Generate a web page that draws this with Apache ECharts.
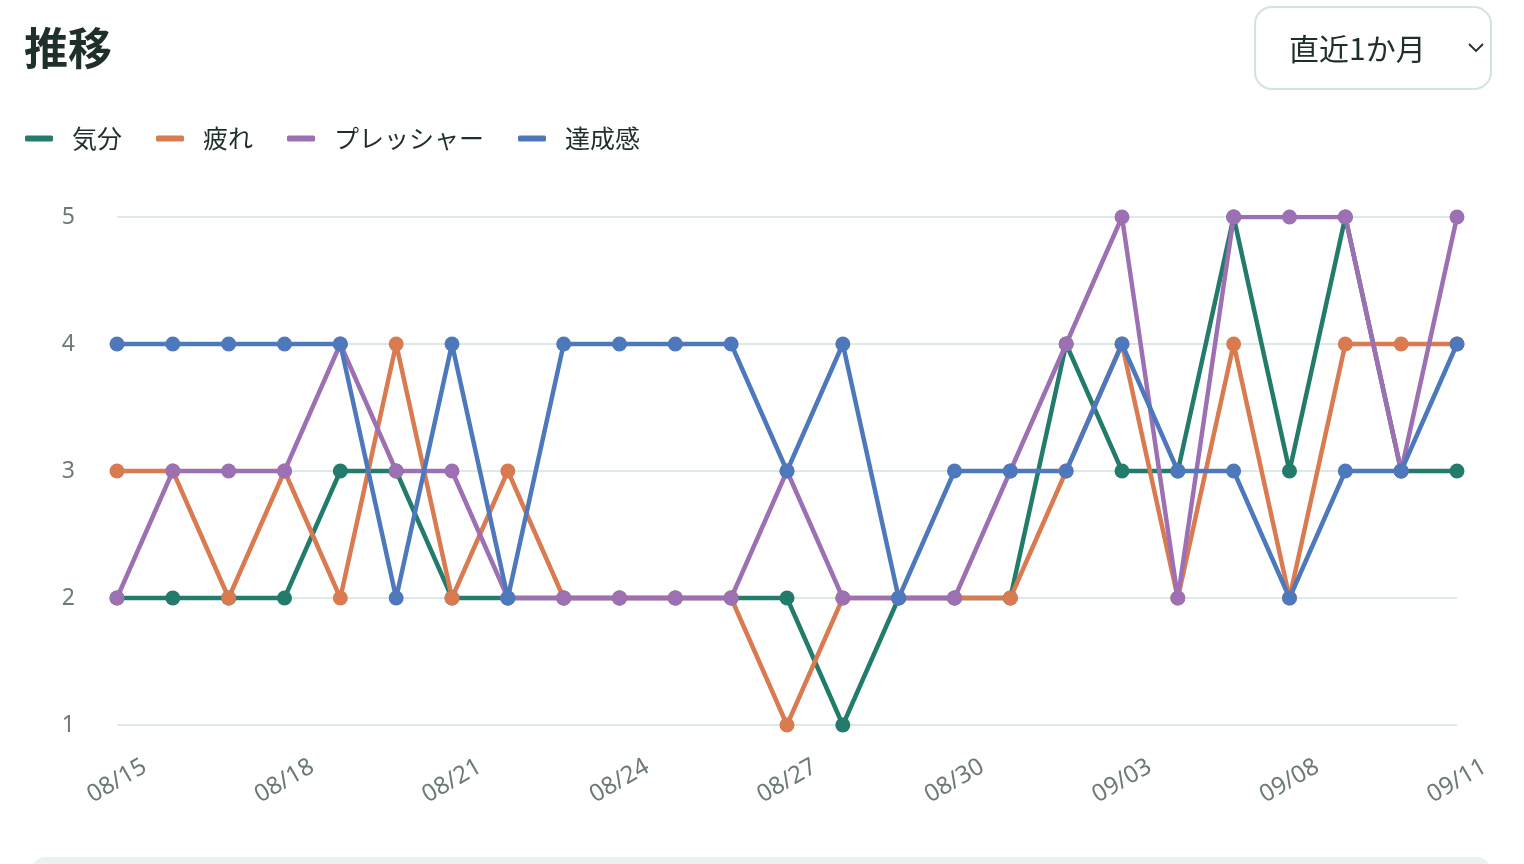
<!DOCTYPE html>
<html lang="ja">
<head>
<meta charset="utf-8">
<title>推移</title>
<script src="https://cdn.jsdelivr.net/npm/echarts@6/dist/echarts.min.js"></script>
<style>
    html, body { margin: 0; padding: 0; background: #fff; }
    body { width: 1524px; height: 864px; position: relative; overflow: hidden;
        font-family: "Noto Sans CJK JP", "Noto Sans", sans-serif; }
    #main { position: absolute; left: 0; top: 0; width: 1524px; height: 864px; }
    #range {
        position: absolute; left: 1254px; top: 6px; width: 234px; height: 80px;
        border: 2px solid #d3e3df; border-radius: 18px; box-sizing: content-box;
        color: #1f2f2b; font-size: 30px; line-height: 78px;
    }
    #range span { position: absolute; left: 33px; top: 0; }
    #range svg { position: absolute; left: 212px; top: 35px; }
    #panel {
        position: absolute; left: 30px; top: 857px; width: 1462px; height: 40px;
        background: #e8f2ef; border-radius: 16px;
    }
</style>
</head>
<body>
<div id="main"></div>
<div id="range"><span>直近1か月</span>
    <svg width="16" height="10" viewBox="0 0 16 10"><path d="M1 1 L8 8 L15 1" fill="none" stroke="#1f2f2b" stroke-width="1.8"/></svg>
</div>
<div id="panel"></div>
<script>
const chartDom = document.getElementById('main')
const myChart = echarts.init(chartDom)

// 日付
const dates = ['08/15', '08/16', '08/17', '08/18', '08/19', '08/20', '08/21', '08/22', '08/23',
    '08/24', '08/25', '08/26', '08/27', '08/28', '08/29', '08/30', '08/31', '09/01', '09/03',
    '09/04', '09/06', '09/08', '09/09', '09/10', '09/11']

const mood = [2, 2, 2, 2, 3, 3, 2, 2, 2, 2, 2, 2, 2, 1, 2, 2, 2, 4, 3, 3, 5, 3, 5, 3, 3]
const fatigue = [3, 3, 2, 3, 2, 4, 2, 3, 2, 2, 2, 2, 1, 2, 2, 2, 2, 3, 4, 2, 4, 2, 4, 4, 4]
const pressure = [2, 3, 3, 3, 4, 3, 3, 2, 2, 2, 2, 2, 3, 2, 2, 2, 3, 4, 5, 2, 5, 5, 5, 3, 5]
const achievement = [4, 4, 4, 4, 4, 2, 4, 2, 4, 4, 4, 4, 3, 4, 2, 3, 3, 3, 4, 3, 3, 2, 3, 3, 4]

const names = ['気分', '疲れ', 'プレッシャー', '達成感']
const colors = ['#237c6b', '#d97a50', '#9d70b4', '#4e78bc']
const values = [mood, fatigue, pressure, achievement]

function line (i) {
    return {
        name: names[i],
        type: 'line',
        data: values[i],
        symbol: 'circle',
        symbolSize: 15,
        lineStyle: { width: 4.5, color: colors[i] },
        itemStyle: { color: colors[i] },
        emphasis: { disabled: true },
    }
}

const option = {
    animation: false,
    color: colors,
    title: {
        text: '推移',
        left: 24,
        top: 26,
        padding: 0,
        textStyle: {
            fontSize: 44,
            fontWeight: 'bold',
            color: '#1f2f2b',
            fontFamily: 'Noto Sans CJK JP',
        }
    },
    legend: {
        left: 25,
        top: 126,
        padding: 0,
        icon: 'roundRect',
        itemWidth: 28,
        itemHeight: 6,
        itemGap: 34,
        textStyle: {
            fontSize: 25,
            color: '#1f2f2b',
            fontFamily: 'Noto Sans CJK JP',
            padding: [0, 0, 0, 14],
        },
        data: names,
    },
    grid: {
        left: 117,
        right: 67,
        top: 217,
        bottom: 139,
    },
    xAxis: {
        type: 'category',
        data: dates,
        boundaryGap: false,
        axisLine: { show: false },
        axisTick: { show: false },
        axisLabel: {
            interval: 2,
            rotate: 30,
            align: 'center',
            verticalAlign: 'middle',
            margin: 56,
            fontSize: 24,
            color: '#6b7a77',
            fontFamily: 'Noto Sans',
        },
    },
    yAxis: {
        type: 'value',
        min: 1,
        max: 5,
        interval: 1,
        axisLine: { show: false },
        axisTick: { show: false },
        axisLabel: {
            margin: 42,
            fontSize: 23,
            color: '#6b7a77',
            fontFamily: 'Noto Sans',
        },
        splitLine: { lineStyle: { color: '#dde9e6', width: 2 } },
    },
    series: [line(0), line(1), line(2), line(3)],
}

myChart.setOption(option)
</script>
</body>
</html>
